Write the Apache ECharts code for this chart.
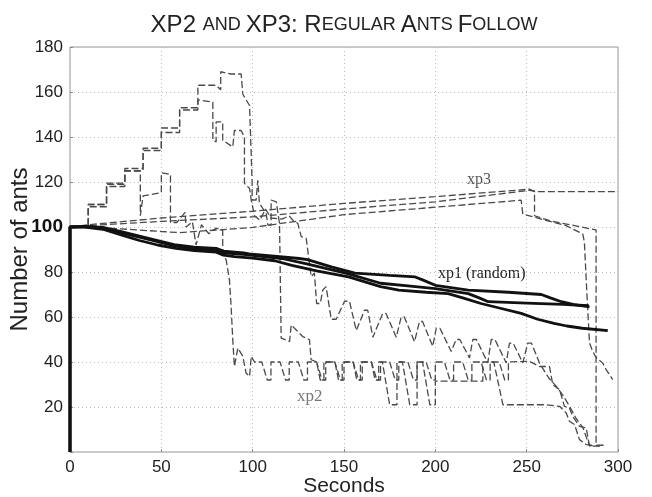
<!DOCTYPE html>
<html>
<head>
<meta charset="utf-8">
<script src="https://cdn.jsdelivr.net/npm/echarts@6/dist/echarts.min.js"></script>
<style>
html, body { margin: 0; padding: 0; background: #fff; }
#main { width: 652px; height: 497px; }
</style>
</head>
<body>
<div id="main"></div>
<script>
// axes
var xRange = [0, 300, 50];
var yRange = [0, 180, 20];

// xp1 (random) - solid black
var xp1a = [[0,0],[0,100],[8,100.2],[18,99.5],[28,97.5],[38,95.5],[48,93.5],[58,91.5],[68,90.3],[80,89.5],[84,88.5],[95,87.8],[116,86],[129,83.7],[152,79.3],[170,75],[185,73.8],[200,72.6],[218,70.4],[224,68.5],[229,66.8],[250,66.2],[270,65.6],[284,65]];
var xp1b = [[0,0],[0,100],[8,100.3],[18,99.8],[28,98],[38,96],[48,94],[58,92],[68,91],[80,90.5],[84,89.3],[95,88.5],[98,88.1],[125.5,86],[130,85.5],[143.5,82.2],[156,79.5],[175,78.5],[189,77.8],[193,76.5],[200,74.1],[218,71.9],[240,71],[258,70],[263,68.5],[269,66.8],[276,65.5],[284.4,64.5]];
var xp1c = [[0,0],[0,100],[8,100],[18,99],[28,96.5],[38,94],[48,92],[58,90.5],[68,89.5],[80,88.8],[84,87.5],[90,86.8],[100,86.2],[112,85],[121.5,82.9],[135,80.5],[152.5,77.8],[170,73.5],[180,71.9],[195,71],[207,70.4],[215,68.5],[225,66],[235,64],[247,61.6],[256,59],[265,57.2],[272,56],[280.5,55],[294.4,53.9]];

// xp3 - dashed
var xp3a = [[0,100],[10,101],[50,104],[100,107],[150,110.5],[200,113.5],[251.5,116.8],[254.3,115.7],[300,115.7]];
var xp3b = [[0,100],[10,100.6],[50,102.5],[100,104.5],[150,108],[200,111.2],[251.5,116.3],[254.3,116],[254.3,105],[262.5,102.8],[288,98.7],[288,3],[292.5,3]];
var xp3c = [[0,100],[20,99.6],[50,98],[60,97.5],[100,99.8],[150,105.5],[200,108.8],[247,111.9],[247.9,105.7],[271.6,100.6],[280.7,96.9],[281.6,93.2],[283,70],[284.4,48.5],[286,45],[288,42],[291.7,39.5],[293.5,36.6],[297.1,32.2]];

// xp2 - dashed
var xp2a = [[0,100],[10,100],[10,110],[20,110],[20,119],[30,119],[30,126],[40,126],[40,135],[50,135],[50,144],[60,144],[60,153],[70,153],[70,163],[80,163],[82.5,161],[82.5,169],[88,168],[93.7,168],[94.6,159],[98.3,154],[99.7,120],[99.7,112],[101.9,112],[102.8,120.8],[103.7,110.5],[107.4,106],[108.3,100.9],[110.1,100.9],[110.1,112],[112.9,111.2],[114.7,101.6],[115.6,50.6],[120.2,49.1],[121.1,56.5],[127.4,51.3],[131.1,49.9],[132,41],[135,40],[137,32],[139,32],[139,40],[145,40],[147,32],[149,32],[149,40],[155,40],[157,32],[159,32],[159,40],[165,40],[167,32],[169,32],[169,40],[171,40],[175,21],[179,21],[179,40],[182,40],[186,21],[190,21],[190,40],[193,40],[197,21],[200,21],[200,31.5],[226,31.5],[226,40],[232,40],[237,21],[255,21],[260,21],[268,20.3],[271.6,17.4],[273.4,13.7],[276.2,12.2],[278.9,5.5],[282.6,3.3],[286,3]];
var xp2b = [[0,100],[10,100],[10,109],[20,109],[20,118],[30,118],[30,125],[40,125],[40,134],[50,134],[50,142],[60,142],[60,152],[70,152],[70,156.5],[78.2,155.5],[78.2,138.6],[80,137.8],[80,146.7],[83.6,146.7],[83.6,138.6],[89.1,135.6],[90,142.9],[93.7,142.9],[95.5,140],[95.5,119.4],[98.3,117.1],[99.2,112],[101,105],[104,103],[107,108],[110,104],[116,103.5],[120,105],[122,103],[124.7,101.6],[126.6,95.7],[129.3,95],[132,78],[133.8,79.5],[135,66],[137,66],[138.4,72],[140.2,73.5],[143,59],[145.7,59],[150.3,67],[153,67],[156.7,54],[161.2,63],[163,63],[165.8,51],[171.2,61.6],[173,61.6],[178.6,51],[181.3,60],[183,60],[188.6,49],[191.3,58],[193,58],[198.6,47],[200.5,55],[202.5,55],[208.7,44.7],[211.4,50],[213.4,50],[218.7,41.8],[220.5,50],[222.5,50],[228.7,39.6],[230.6,50],[232.6,50],[238.8,39.6],[240.6,48.4],[242.6,48.4],[247.9,39.6],[250.6,48.4],[252.6,48.4],[257,39.6],[262,33],[266.1,29.3],[270,25],[273.4,20.4],[277,15],[280.7,10.9],[284.4,2.8],[290,2.8]];
var xp2c = [[0,100],[10,100],[10,110],[20,110],[20,119.5],[30,119.5],[30,124.9],[38.5,124.9],[38.5,105],[40,113.8],[50,115.3],[50,124.1],[55,123.4],[55,102],[58.5,102],[63,106.5],[63.5,100],[67,102.3],[69,92],[72,101],[76,97],[80,99.5],[83.6,98.4],[83.6,88],[85.5,85.4],[87.3,76.5],[88.2,64.6],[89.1,49.9],[90,38],[91.9,46.2],[94.6,42.5],[96.4,35.1],[98.3,33.6],[99.2,42.5],[101,40],[105,40],[108,32],[110,32],[110,40],[115,40],[118,32],[120,32],[120,40],[125,40],[128,32],[130,32],[130,40],[135,40],[138,32],[140,32],[140,40],[145,40],[148,32],[150,32],[150,40],[155,40],[158,32],[160,32],[160,40],[165,40],[168,32],[170,32],[170,40],[175,40],[178,32],[180,32],[180,40],[185,40],[188,32],[190,32],[190,40],[195,40],[198,32],[200,32],[200,40],[205,40],[208,32],[210,32],[210,40],[215,40],[218,32],[220,32],[220,40],[225,40],[228,32],[230,32],[230,40],[235,40],[238,32],[240,32],[240,40],[251.5,40.3],[257,38],[262.5,38],[264.3,29.9],[268,27.7],[270.7,20.3],[273.4,19.6],[275.2,15.9],[278.9,11.4],[282.6,10.7],[284.4,2.6],[291.7,2.6]];

var myChart = echarts.init(document.getElementById('main'));
var sans = 'Liberation Sans';
var serif = 'Liberation Serif';

function solidLine(name, data) {
    return {
        name: name, type: 'line', data: data, showSymbol: false, z: 4,
        lineStyle: {color: '#111', width: 2.8, type: 'solid'}
    };
}
function dashedLine(name, data) {
    return {
        name: name, type: 'line', data: data, showSymbol: false, z: 3,
        lineStyle: {color: '#4a4a4a', width: 1.3, type: [7, 3]}
    };
}

var option = {
    animation: false,
    backgroundColor: '#fff',
    grid: {
        left: 70, right: 34, top: 47, bottom: 45,
        outerBoundsMode: 'none', containLabel: false,
        show: true, borderColor: '#999', borderWidth: 1
    },
    graphic: [
        {type: 'text', x: 344, y: 25, style: {
            text: '{a|XP2 }{b|AND }{a|XP3: R}{b|EGULAR }{a|A}{b|NTS }{a|F}{b|OLLOW}',
            align: 'center', verticalAlign: 'middle',
            rich: {
                a: {fontSize: 24, fontFamily: sans, fill: '#222'},
                b: {fontSize: 18, fontFamily: sans, fill: '#222'}
            }
        }},
        {type: 'text', left: 467, top: 172, style: {text: 'xp3', font: '16px ' + serif, fill: '#555'}},
        {type: 'text', left: 438, top: 266, style: {text: 'xp1 (random)', font: '16px ' + serif, fill: '#222'}},
        {type: 'text', left: 297, top: 388, style: {text: 'xp2', font: '17px ' + serif, fill: '#777'}}
    ],
    xAxis: {
        type: 'value', min: xRange[0], max: xRange[1], interval: xRange[2],
        name: 'Seconds', nameLocation: 'middle', nameGap: 24, nameMoveOverlap: false,
        nameTextStyle: {fontSize: 21, fontFamily: sans, color: '#222'},
        axisLine: {show: false},
        axisTick: {show: true, inside: true, length: 3, lineStyle: {color: '#888'}},
        axisLabel: {fontSize: 17, fontFamily: sans, color: '#222', margin: 7},
        splitLine: {show: true, lineStyle: {type: [1, 3], color: '#bbb'}}
    },
    yAxis: {
        type: 'value', min: yRange[0], max: yRange[1], interval: yRange[2],
        name: 'Number of ants', nameLocation: 'middle', nameGap: 38, nameMoveOverlap: false,
        nameTextStyle: {fontSize: 24, fontFamily: sans, color: '#222'},
        axisLine: {show: false},
        axisTick: {show: true, inside: true, length: 3, lineStyle: {color: '#888'}},
        axisLabel: {
            fontSize: 17, fontFamily: sans, color: '#222', margin: 7,
            formatter: function (v) { return v === 0 ? '' : (v === 100 ? '{b|100}' : v); },
            rich: {b: {fontSize: 19, fontWeight: 'bold', fontFamily: sans, color: '#111'}}
        },
        splitLine: {show: true, lineStyle: {type: [1, 3], color: '#bbb'}}
    },
    series: [
        dashedLine('xp2a', xp2a), dashedLine('xp2b', xp2b), dashedLine('xp2c', xp2c),
        dashedLine('xp3a', xp3a), dashedLine('xp3b', xp3b), dashedLine('xp3c', xp3c),
        solidLine('xp1a', xp1a), solidLine('xp1b', xp1b), solidLine('xp1c', xp1c)
    ]
};

myChart.setOption(option);
</script>
</body>
</html>
